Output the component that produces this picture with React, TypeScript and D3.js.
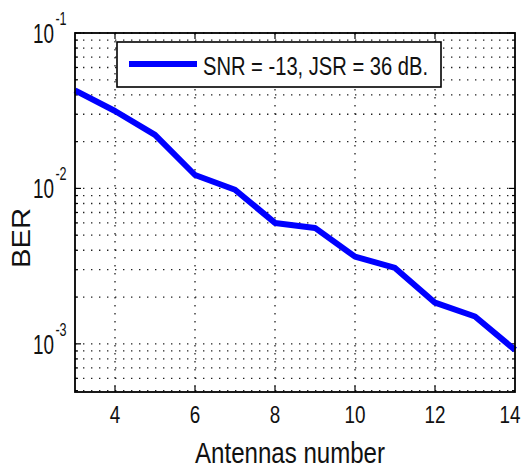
import React from "react";
import * as d3 from "d3";

const antennas = [3, 4, 5, 6, 7, 8, 9, 10, 11, 12, 13, 14];
const ber = [0.0427, 0.0315, 0.0221, 0.0122, 0.0098, 0.006, 0.00557, 0.00364, 0.00308, 0.00184, 0.0015, 0.000914];
const xTicks = [4, 6, 8, 10, 12, 14];
const yDecades = [0.1, 0.01, 0.001];
const yDecadeExps = ["-1", "-2", "-3"];
const legendLabel = "SNR = -13,  JSR = 36 dB.";
const xTitle = "Antennas number";
const yTitle = "BER";

const W = 526;
const H = 468;
const L = 75, R = 515, T = 33, B = 392;

export default function App() {
  const x = d3.scaleLinear().domain([3, 14]).range([L, R]);
  const y = d3.scaleLog().domain([4.9e-4, 0.1]).range([B, T]);
  const line = d3
    .line<number>()
    .x((_, i) => x(antennas[i]))
    .y((d) => y(d));

  const minor: number[] = [];
  for (const dec of [0.0001, 0.001, 0.01]) {
    for (let k = 2; k <= 9; k++) {
      const v = dec * k;
      if (v >= 4.9e-4 && v <= 0.1) minor.push(v);
    }
  }

  const font = "'Liberation Sans', Arial, sans-serif";
  const dot = { stroke: "#222", strokeWidth: 1.3, strokeDasharray: "1.4 6.6" };

  return (
    <svg width={W} height={H} style={{ position: "absolute", left: 0, top: 0, background: "#fff" }} fontFamily={font}>
      <rect x={0} y={0} width={W} height={H} fill="#fff" />
      {/* grid */}
      {yDecades.concat(minor).map((v, i) => (
        <line key={"gy" + i} x1={L} x2={R} y1={y(v)} y2={y(v)} {...dot} />
      ))}
      {xTicks.filter((t) => t < 14).map((t) => (
        <line key={"gx" + t} x1={x(t)} x2={x(t)} y1={T} y2={B} {...dot} />
      ))}
      {/* ticks */}
      {xTicks.filter((t) => t < 14).map((t) => (
        <g key={"tx" + t} stroke="#000" strokeWidth={1.2}>
          <line x1={x(t)} x2={x(t)} y1={B} y2={B - 6} />
          <line x1={x(t)} x2={x(t)} y1={T} y2={T + 6} />
        </g>
      ))}
      {yDecades.map((v, i) => (
        <g key={"ty" + i} stroke="#000" strokeWidth={1.2}>
          <line x1={L} x2={L + 6} y1={y(v)} y2={y(v)} />
          <line x1={R} x2={R - 6} y1={y(v)} y2={y(v)} />
        </g>
      ))}
      {minor.map((v, i) => (
        <g key={"tm" + i} stroke="#000" strokeWidth={1.2}>
          <line x1={L} x2={L + 3} y1={y(v)} y2={y(v)} />
          <line x1={R} x2={R - 3} y1={y(v)} y2={y(v)} />
        </g>
      ))}
      {/* data line */}
      <path d={line(ber) || ""} fill="none" stroke="#0000ff" strokeWidth={6} strokeLinejoin="round" />
      {/* axes box */}
      <rect x={L} y={T} width={R - L} height={B - T} fill="none" stroke="#000" strokeWidth={1.8} />
      {/* x tick labels */}
      {xTicks.map((t) => (
        <text key={"lx" + t} x={t === 14 ? x(t) - 5 : x(t)} y={423} fontSize={23} textAnchor="middle" textLength={String(t).length * 10.5} lengthAdjust="spacingAndGlyphs" fill="#111">
          {t}
        </text>
      ))}
      {/* y tick labels */}
      {yDecades.map((v, i) => (
        <text key={"ly" + i} transform={`translate(33,${y(v) + 10}) scale(0.7,1)`} fontSize={27} fill="#111">
          10
          <tspan fontSize={18} dx={2} dy={-18}>{yDecadeExps[i]}</tspan>
        </text>
      ))}
      {/* axis titles */}
      <text x={290} y={463} fontSize={29} textAnchor="middle" textLength={190} lengthAdjust="spacingAndGlyphs" fill="#111">
        {xTitle}
      </text>
      <text transform="translate(30,238) rotate(-90)" fontSize={25} textAnchor="middle" textLength={60} lengthAdjust="spacingAndGlyphs" fill="#111">
        {yTitle}
      </text>
      {/* legend */}
      <rect x={117} y={42} width={324} height={45} fill="#fff" stroke="#000" strokeWidth={1.6} />
      <line x1={129} x2={197} y1={64} y2={64} stroke="#0000ff" strokeWidth={6} />
      <text x={203} y={75} fontSize={25} textLength={225} lengthAdjust="spacingAndGlyphs" fill="#111">
        {legendLabel}
      </text>
    </svg>
  );
}
